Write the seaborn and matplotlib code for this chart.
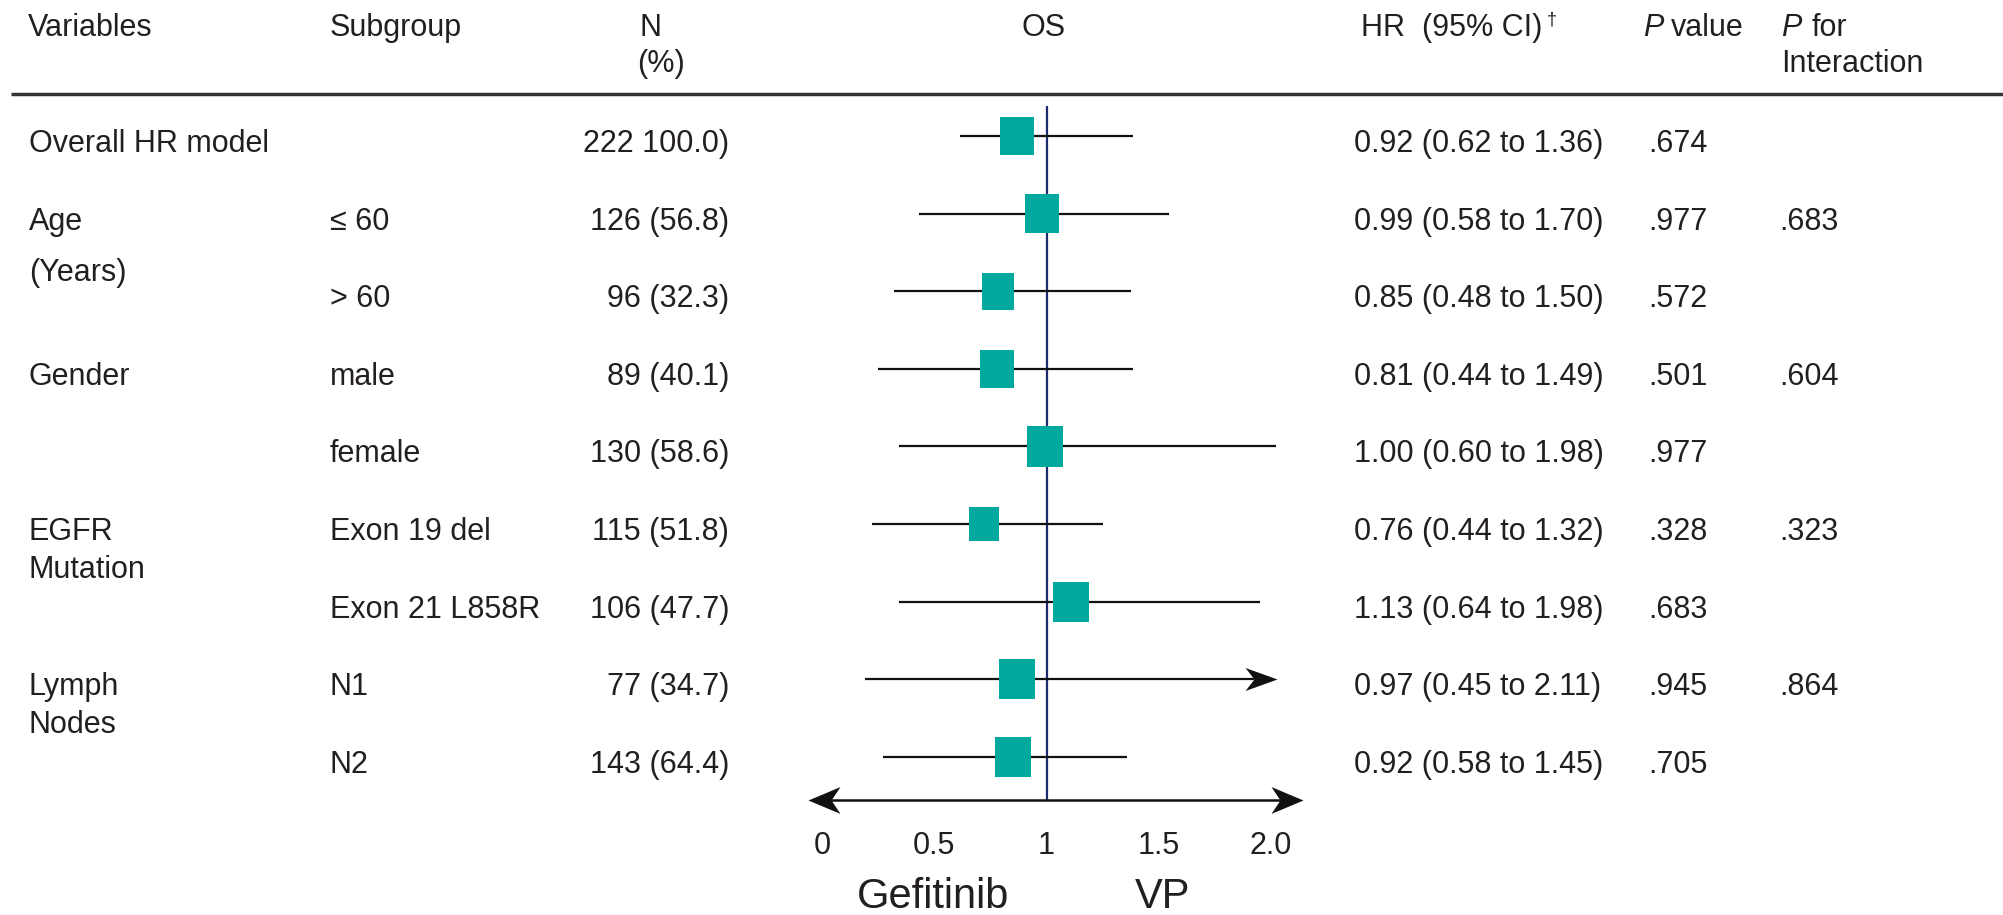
import matplotlib
matplotlib.use("Agg")
import matplotlib.pyplot as plt
from matplotlib import font_manager
from matplotlib.markers import MarkerStyle
from matplotlib.path import Path
import numpy as np
import pandas as pd
import seaborn as sns

# ---------------- data ----------------
variable_labels = ["Overall HR model", "Age", "(Years)", "Gender", "EGFR", "Mutation", "Lymph", "Nodes"]
variable_rows = [0, 1, 1.66, 3, 5, 5.49, 7, 7.49]
subgroups = ["", "\u2264 60", "> 60", "male", "female", "Exon 19 del", "Exon 21 L858R", "N1", "N2"]
n_labels = ["222 100.0)", "126 (56.8)", "96 (32.3)", "89 (40.1)", "130 (58.6)",
            "115 (51.8)", "106 (47.7)", "77 (34.7)", "143 (64.4)"]
hr_labels = ["0.92 (0.62 to 1.36)", "0.99 (0.58 to 1.70)", "0.85 (0.48 to 1.50)",
             "0.81 (0.44 to 1.49)", "1.00 (0.60 to 1.98)", "0.76 (0.44 to 1.32)",
             "1.13 (0.64 to 1.98)", "0.97 (0.45 to 2.11)", "0.92 (0.58 to 1.45)"]
p_values = [".674", ".977", ".572", ".501", ".977", ".328", ".683", ".945", ".705"]
p_interaction = ["", ".683", "", ".604", "", ".323", "", ".864", ""]
# plotted positions (as drawn on the OS axis)
hr_plot = [0.869, 0.980, 0.783, 0.780, 0.993, 0.723, 1.109, 0.869, 0.851]
ci_low_plot = [0.615, 0.432, 0.322, 0.251, 0.342, 0.221, 0.342, 0.192, 0.270]
ci_high_plot = [1.386, 1.546, 1.376, 1.387, 2.021, 1.253, 1.951, 2.025, 1.357]
ci_arrow = [False, False, False, False, False, False, False, True, False]
tick_values = [0, 0.5, 1, 1.5, 2.0]
tick_labels = ["0", "0.5", "1", "1.5", "2.0"]
favours = ["Gefitinib", "VP"]

df = pd.DataFrame({"row": np.arange(len(hr_plot)), "hr": hr_plot,
                   "lo": ci_low_plot, "hi": ci_high_plot, "arrow": ci_arrow})

# ---------------- style ----------------
sns.set_theme(style="white")
avail = {f.name for f in font_manager.fontManager.ttflist}
main_font = "Liberation Sans" if "Liberation Sans" in avail else "DejaVu Sans"
narrow_font = "Liberation Sans Narrow" if "Liberation Sans Narrow" in avail else main_font
plt.rcParams["font.family"] = [main_font, "DejaVu Sans"]

TXT = "#231f20"
TEAL = "#00a99d"
NAVY = "#1c2a6e"
LINE = "#111111"
FS = 22
box_heights_px = [38, 39, 37, 38, 41, 34, 40, 40, 40]

W, H, DPI = 2003, 915, 100
PT = DPI / 72.0
fig = plt.figure(figsize=(W / DPI, H / DPI), dpi=DPI)
ax = fig.add_axes([0, 0, 1, 1])
X0, XU = 822, 224.5
Y0, YU = 136, 77.6
XLIM = (-X0 / XU, (W - X0) / XU)
YLIM = ((H - Y0) / YU, -Y0 / YU)
ax.set_xlim(*XLIM)
ax.set_ylim(*YLIM)
ax.axis("off")


def px_x(p):
    return (p - X0) / XU


def px_y(p):
    return (p - Y0) / YU


BASE = 16 / YU  # baseline offset of row text from marker row


def txt(xpx, y, s, ha="left", **kw):
    kw.setdefault("fontsize", FS)
    kw.setdefault("color", TXT)
    ax.text(px_x(xpx), y, s, ha=ha, va="baseline", **kw)


def barb(direction, half_h):
    # barbed arrowhead with the tip at the marker origin; length normalised to 1
    d = 1 if direction == "right" else -1
    verts = [(0, 0), (-d * 1.0, half_h), (-d * 0.72, 0), (-d * 1.0, -half_h), (0, 0)]
    codes = [Path.MOVETO, Path.LINETO, Path.LINETO, Path.LINETO, Path.CLOSEPOLY]
    return MarkerStyle(Path(verts, codes))


# ---------------- header ----------------
hy1, hy2 = px_y(36), px_y(72)
txt(28, hy1, "Variables")
txt(330, hy1, "Subgroup")
txt(639, hy1, "N")
txt(637, hy2, "(%)")
txt(1044, hy1, "OS", ha="center")
txt(1361, hy1, "HR  (95% CI)")
txt(1547, px_y(24), "\u2020", fontsize=13)
txt(1643, hy1, "P", style="italic")
txt(1671, hy1, "value")
txt(1781, hy1, "P", style="italic")
txt(1812, hy1, "for")
txt(1781, hy2, "Interaction")
ax.plot([px_x(11), px_x(2003)], [px_y(94), px_y(94)], color="#333333", lw=2.5,
        solid_capstyle="butt")

# ---------------- table text ----------------
for lab, r in zip(variable_labels, variable_rows):
    txt(29, r + BASE, lab)
for i in range(len(subgroups)):
    y = i + BASE
    txt(330, y, subgroups[i])
    txt(729, y, n_labels[i], ha="right")
    txt(1354, y, hr_labels[i])
    txt(1648, y, p_values[i])
    if p_interaction[i]:
        txt(1779, y, p_interaction[i])

# ---------------- forest plot ----------------
ax.vlines(1, px_y(106), px_y(800), color=NAVY, lw=1.6, zorder=1)
plain = df[~df["arrow"]]
ax.hlines(plain["row"], plain["lo"], plain["hi"], color=LINE, lw=1.6, zorder=2)
head_len_px = 32
for _, r in df[df["arrow"]].iterrows():
    ax.hlines(r["row"], r["lo"], r["hi"] - 0.7 * head_len_px / XU, color=LINE, lw=1.6, zorder=2)
    ax.plot([r["hi"]], [r["row"]], linestyle="none", marker=barb("right", 0.36),
            markersize=2 * head_len_px / PT, color=LINE, markeredgewidth=0, zorder=2)

rect = MarkerStyle(Path([(-0.44, -0.5), (0.44, -0.5), (0.44, 0.5), (-0.44, 0.5), (-0.44, -0.5)],
                        [Path.MOVETO, Path.LINETO, Path.LINETO, Path.LINETO, Path.CLOSEPOLY]))
sns.scatterplot(data=df, x="hr", y="row", marker=rect, s=700, color=TEAL,
                linewidth=0, ax=ax, zorder=3, legend=False)
coll = ax.collections[-1]
coll.set_sizes([(h / PT) ** 2 for h in box_heights_px])
ax.set_xlim(*XLIM)
ax.set_ylim(*YLIM)
ax.set_xlabel("")
ax.set_ylabel("")

# axis double arrow
ay = px_y(800)
xl, xr = px_x(808), px_x(1303)
ax.plot([xl + 0.7 * head_len_px / XU, xr - 0.7 * head_len_px / XU], [ay, ay],
        color=LINE, lw=1.8, solid_capstyle="butt")
ax.plot([xr], [ay], linestyle="none", marker=barb("right", 0.42),
        markersize=2 * head_len_px / PT, color=LINE, markeredgewidth=0)
ax.plot([xl], [ay], linestyle="none", marker=barb("left", 0.42),
        markersize=2 * head_len_px / PT, color=LINE, markeredgewidth=0)

for v, lab in zip(tick_values, tick_labels):
    ax.text(v, px_y(854), lab, ha="center", va="baseline", fontsize=FS, color=TXT)
ax.text(px_x(933), px_y(908), favours[0], ha="center", va="baseline", fontsize=30,
        color=TXT, family=[narrow_font, "DejaVu Sans"])
ax.text(px_x(1163), px_y(908), favours[1], ha="center", va="baseline", fontsize=30,
        color=TXT, family=[narrow_font, "DejaVu Sans"])

fig.savefig("out.png", dpi=DPI, facecolor="white")
